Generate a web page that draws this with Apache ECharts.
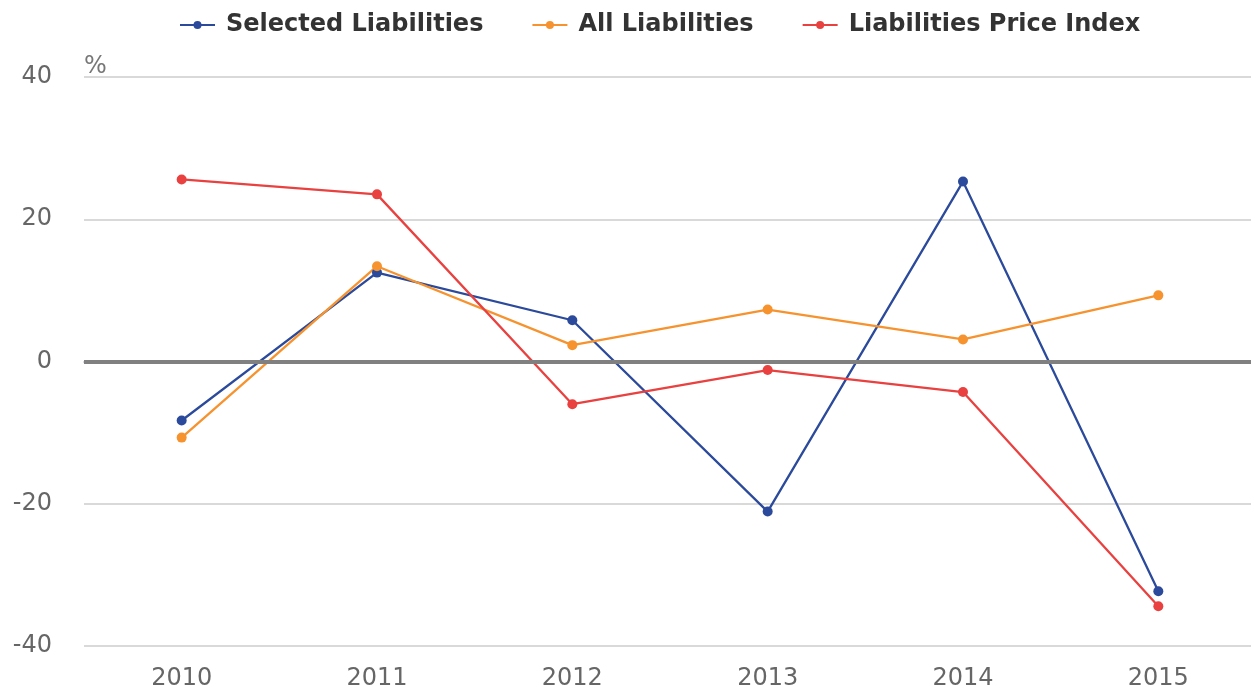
<!DOCTYPE html>
<html>
<head>
<meta charset="utf-8">
<script src="https://cdn.jsdelivr.net/npm/echarts@6/dist/echarts.min.js"></script>
<style>
  html, body { margin: 0; padding: 0; background: #fff; overflow: hidden; }
  #main { width: 1256px; height: 691px; }
</style>
</head>
<body>
<div id="main"></div>
<script>
var years = ['2010', '2011', '2012', '2013', '2014', '2015'];
var selectedLiabilities = [-8.3, 12.5, 5.8, -21.1, 25.3, -32.3];
var allLiabilities = [-10.7, 13.4, 2.3, 7.3, 3.1, 9.3];
var priceIndex = [25.6, 23.5, -6.0, -1.2, -4.3, -34.4];

var FONT = 'DejaVu Sans';
var myChart = echarts.init(document.getElementById('main'));

function lineSeries(name, color, data) {
  return {
    name: name,
    type: 'line',
    data: data,
    symbol: 'circle',
    symbolSize: 10,
    itemStyle: { color: color },
    lineStyle: { color: color, width: 2.3 }
  };
}

var series = [
  lineSeries('Selected Liabilities', '#2b4a9b', selectedLiabilities),
  lineSeries('All Liabilities', '#f6932f', allLiabilities),
  lineSeries('Liabilities Price Index', '#e8413f', priceIndex)
];
// thick grey zero line
series[0].markLine = {
  silent: true,
  symbol: 'none',
  label: { show: false },
  lineStyle: { color: '#808080', width: 4, type: 'solid' },
  data: [{ yAxis: 0 }]
};

var option = {
  animation: false,
  textStyle: { fontFamily: FONT },
  legend: {
    top: 8,
    left: 174,
    itemWidth: 35,
    itemHeight: 10,
    itemGap: 48,
    textStyle: { fontFamily: FONT, fontSize: 24, fontWeight: 'bold', color: '#333', padding: [0, 0, 0, 6] },
    data: ['Selected Liabilities', 'All Liabilities', 'Liabilities Price Index']
  },
  grid: { left: 84, right: 0, top: 77, bottom: 43, containLabel: false },
  xAxis: {
    type: 'category',
    data: years,
    axisLine: { lineStyle: { color: '#c5d3e2', width: 2 } },
    axisTick: { alignWithLabel: true, length: 20, lineStyle: { color: '#c5d3e2', width: 2 } },
    axisLabel: { fontFamily: FONT, fontSize: 24, color: '#666', margin: 21 }
  },
  yAxis: {
    type: 'value',
    min: -40,
    max: 40,
    interval: 20,
    name: '%',
    nameLocation: 'end',
    nameGap: -2,
    nameTextStyle: { fontFamily: FONT, fontSize: 24, color: '#777', align: 'left' },
    axisLine: { show: false },
    axisTick: { show: false },
    axisLabel: { fontFamily: FONT, fontSize: 24, color: '#666', margin: 32, padding: [2, 0, 0, 0] },
    splitLine: { lineStyle: { color: '#d9d9d9', width: 2 } }
  },
  series: series
};

myChart.setOption(option);
</script>
</body>
</html>
